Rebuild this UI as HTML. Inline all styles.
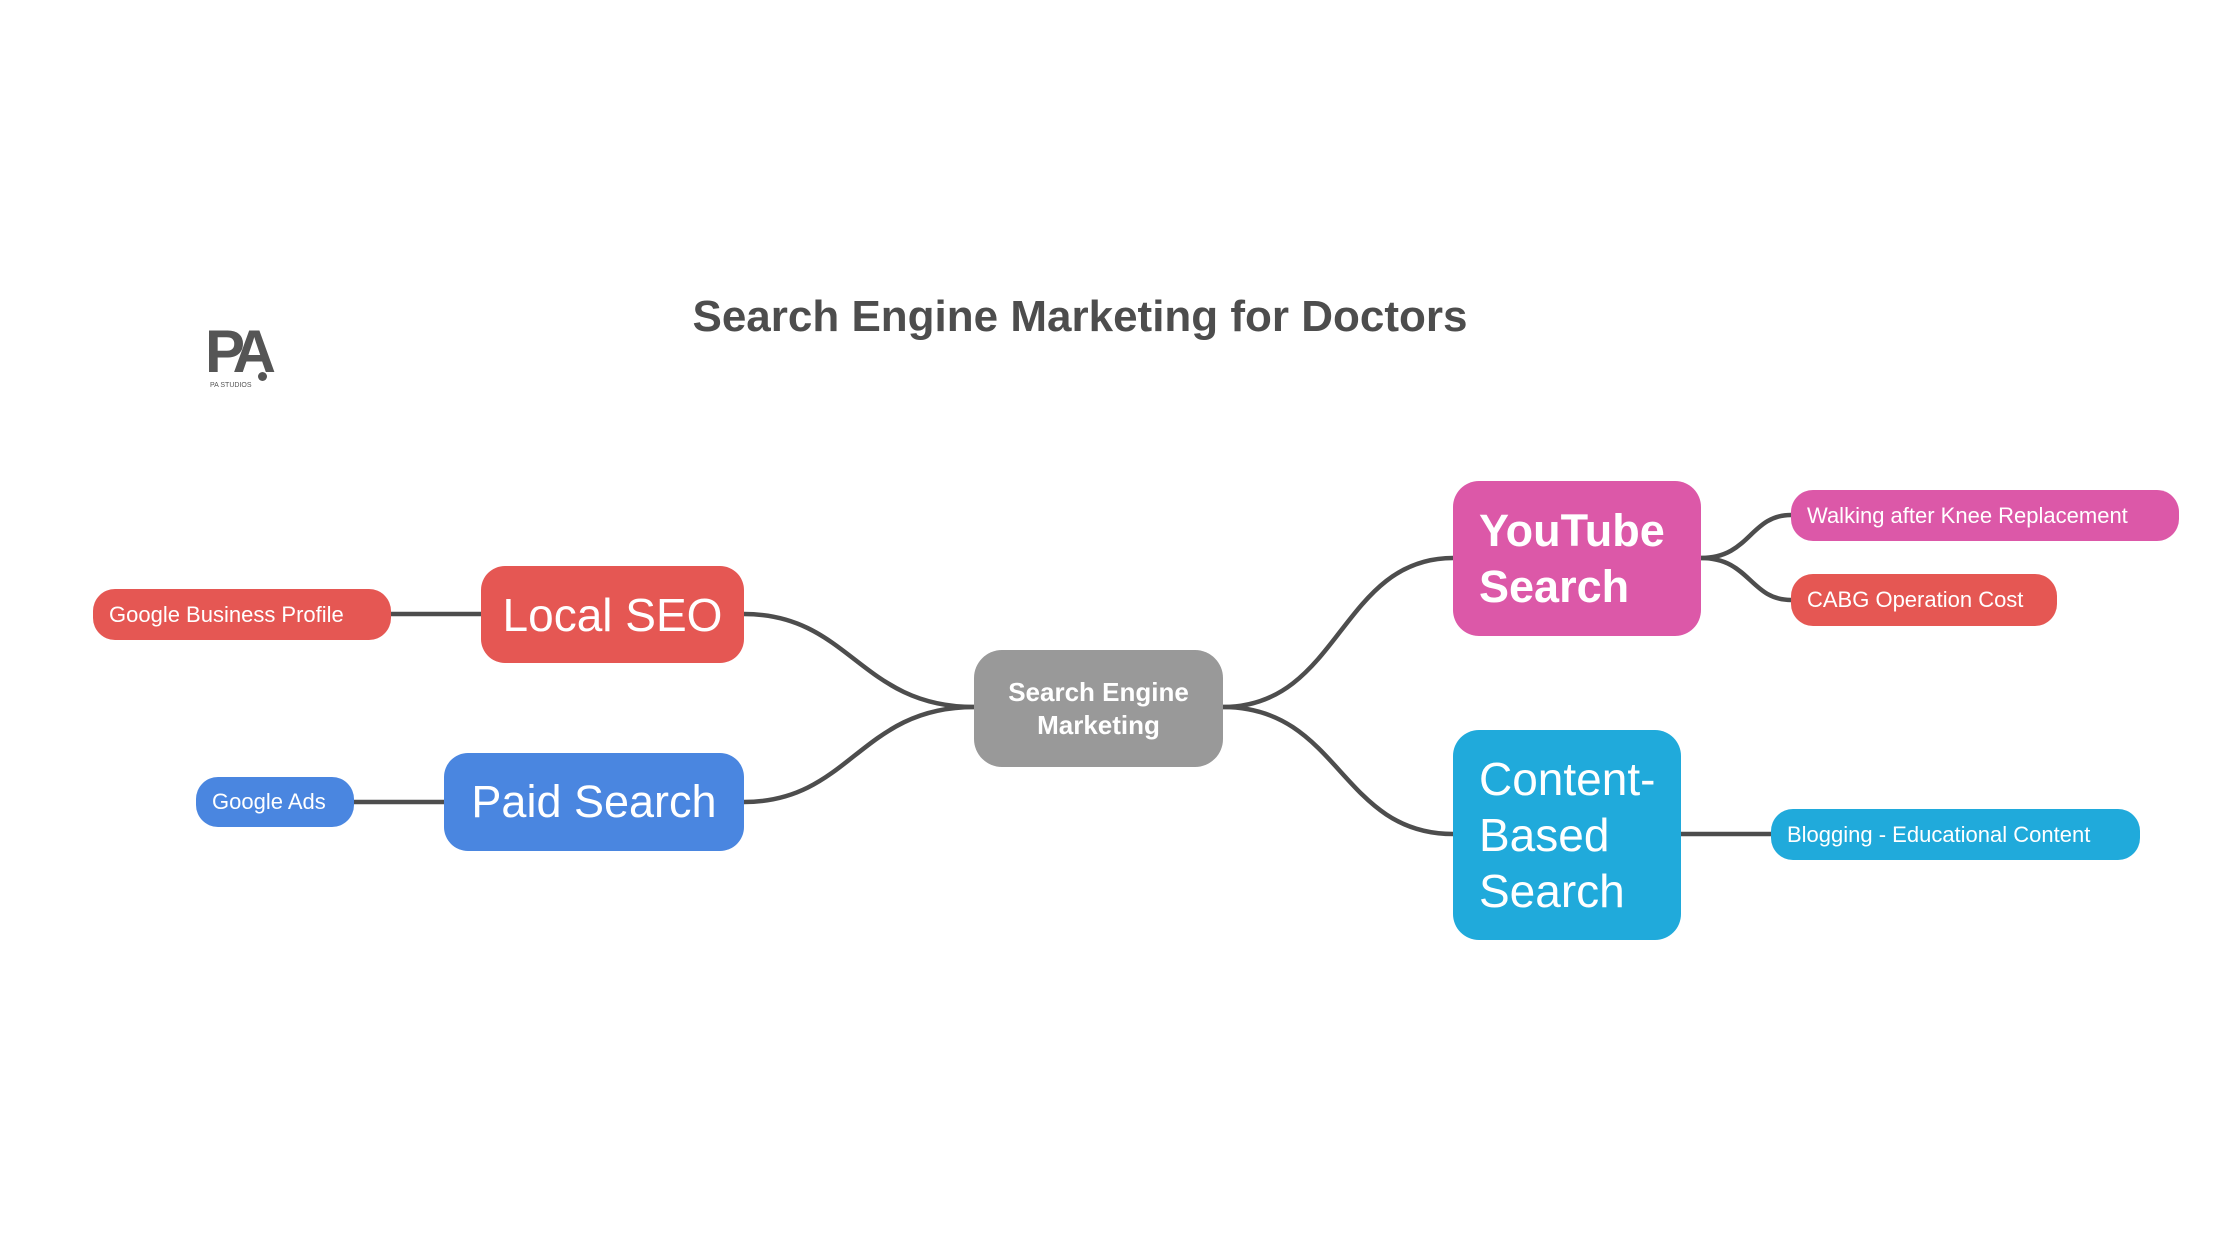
<!DOCTYPE html>
<html><head><meta charset="utf-8"><style>
body{margin:0;width:2240px;height:1260px;background:#fff;overflow:hidden;position:relative;font-family:"Liberation Sans",sans-serif}
.n{position:absolute;display:flex;align-items:center;color:#fff;box-sizing:border-box}
.s{border-radius:22px;font-size:22px;padding-left:16px}
</style></head><body>
<svg width="2240" height="1260" style="position:absolute;left:0;top:0" fill="none" stroke="#4d4d4d" stroke-width="4.5">
<path d="M744 614 C850 614 860 707 974 707"/>
<path d="M744 802 C850 802 860 707 974 707"/>
<path d="M1223 707 C1340 707 1340 558 1453 558"/>
<path d="M1223 707 C1340 707 1340 834 1453 834"/>
<path d="M1701 558 C1750 558 1750 515 1791 515"/>
<path d="M1701 558 C1750 558 1750 600 1791 600"/>
<path d="M1681 834 L1771 834"/>
<path d="M391 614 L481 614"/>
<path d="M354 802 L444 802"/>
</svg>
<div style="position:absolute;left:0;width:2160px;top:292px;text-align:center;font-size:44px;font-weight:bold;color:#4d4d4d">Search Engine Marketing for Doctors</div>
<div style="position:absolute;left:205px;top:322px;font-size:60px;font-weight:bold;color:#555;letter-spacing:-8px;line-height:60px">PA</div>
<div style="position:absolute;left:258px;top:372px;width:9px;height:9px;border-radius:50%;background:#555"></div>
<div style="position:absolute;left:210px;top:382px;font-size:7px;color:#555">PA STUDIOS</div>
<div class="n" style="left:481px;top:566px;width:263px;height:97px;background:#E55753;border-radius:24px;font-size:46px;justify-content:center">Local SEO</div>
<div class="n s" style="left:93px;top:589px;width:298px;height:51px;background:#E55753">Google Business Profile</div>
<div class="n" style="left:444px;top:753px;width:300px;height:98px;background:#4A86E0;border-radius:24px;font-size:45px;justify-content:center">Paid Search</div>
<div class="n s" style="left:196px;top:777px;width:158px;height:50px;background:#4A86E0">Google Ads</div>
<div class="n" style="left:974px;top:650px;width:249px;height:117px;background:#999;border-radius:28px;font-size:26px;font-weight:bold;justify-content:center;text-align:center;line-height:33px">Search Engine<br>Marketing</div>
<div class="n" style="left:1453px;top:481px;width:248px;height:155px;background:#DC58A8;border-radius:26px;font-size:45px;font-weight:bold;padding-left:26px;line-height:56px">YouTube<br>Search</div>
<div class="n s" style="left:1791px;top:490px;width:388px;height:51px;background:#DC58A8">Walking after Knee Replacement</div>
<div class="n s" style="left:1791px;top:574px;width:266px;height:52px;background:#E55753">CABG Operation Cost</div>
<div class="n" style="left:1453px;top:730px;width:228px;height:210px;background:#20AADB;border-radius:26px;font-size:46px;padding-left:26px;line-height:56px">Content-<br>Based<br>Search</div>
<div class="n s" style="left:1771px;top:809px;width:369px;height:51px;background:#20AADB">Blogging - Educational Content</div>
</body></html>
